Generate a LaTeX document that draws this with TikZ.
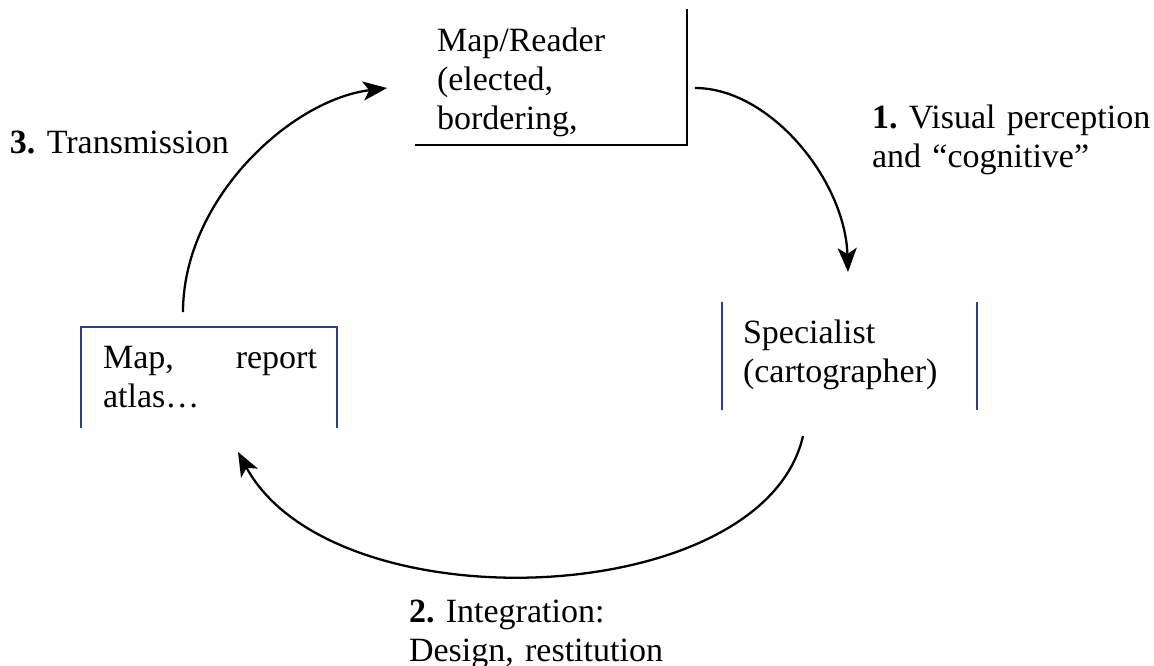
\documentclass[tikz,border=0pt]{standalone}
\usepackage{fontspec}
\setmainfont{Liberation Serif}
\usepackage{tikz}
\usetikzlibrary{arrows.meta}
\definecolor{frameblue}{RGB}{42,64,138}
\frenchspacing
\tikzset{
    boxtext/.style = {
        align=left,
        text width=5cm,
        inner sep=0pt,
        outer sep=0mm,
        anchor=base west,
        font=\fontsize{19.35pt}{22.2pt}\selectfont
    },
    steplabel/.style = {
        boxtext,
        text width=6cm
    },
    boxframe/.style = {
        rectangle,
        inner sep=0pt,
        outer sep=0mm
    },
    frameline/.style = {
        line width=1.1pt,
        draw=#1
    },
    cyclearrow/.style = {
        line width=1.3pt,
        -{Stealth[length=0.48cm,width=0.38cm,inset=0.12cm]}
    }
}

\begin{document}
\begin{tikzpicture}[x=0.02cm, y=-0.02cm]
    \useasboundingbox (0,0) rectangle (1154,666);
    % frames
    \node [boxframe, minimum width=5.44cm, minimum height=2.72cm] (reader) at (551,77) {};
    \node [boxframe, minimum width=5.10cm, minimum height=2.16cm] (specialist) at (849.5,356) {};
    \node [boxframe, minimum width=5.12cm, minimum height=2.02cm] (product) at (209,377.5) {};
    \draw [frameline=black] (reader.north east) -- (reader.south east) -- (reader.south west);
    \draw [frameline=frameblue] (specialist.north west) -- (specialist.south west);
    \draw [frameline=frameblue] (specialist.north east) -- (specialist.south east);
    \draw [frameline=frameblue] (product.south west) -- (product.north west)
        -- (product.north east) -- (product.south east);
    % texts in the frames
    \node [boxtext] (readertxt) at ([shift={(22,42)}]reader.north west)
        {Map/Reader\\(elected,\\bordering,};
    \node [boxtext] (specialisttxt) at ([shift={(21,41)}]specialist.north west)
        {Specialist\\(cartographer)};
    \node [boxtext, text width=4.28cm] (producttxt) at ([shift={(22,41)}]product.north west)
        {Map,\hfill report\\atlas\ldots};
    % steps
    \node [steplabel] (perception) at (872,128)
        {\textbf{1.} Visual perception\\and ``cognitive''};
    \node [steplabel] (integration) at (409,622)
        {\textbf{2.} Integration:\\Design, restitution};
    \node [steplabel] (transmission) at (10,153)
        {\textbf{3.} Transmission};
    % cycle
    \draw [cyclearrow] ([shift={(8,11)}]reader.east)
        .. controls +(75,0) and +(-3,-92) .. ([shift={(-1.5,-30)}]specialist.north);
    \draw [cyclearrow] ([shift={(-46.5,26)}]specialist.south)
        .. controls +(-40,175) and +(95,175) .. ([shift={(29,24)}]product.south);
    \draw [cyclearrow] ([shift={(-26,-15)}]product.north)
        .. controls +(0,-112) and +(-97,12) .. ([shift={(-28,11)}]reader.west);
\end{tikzpicture}
\end{document}
